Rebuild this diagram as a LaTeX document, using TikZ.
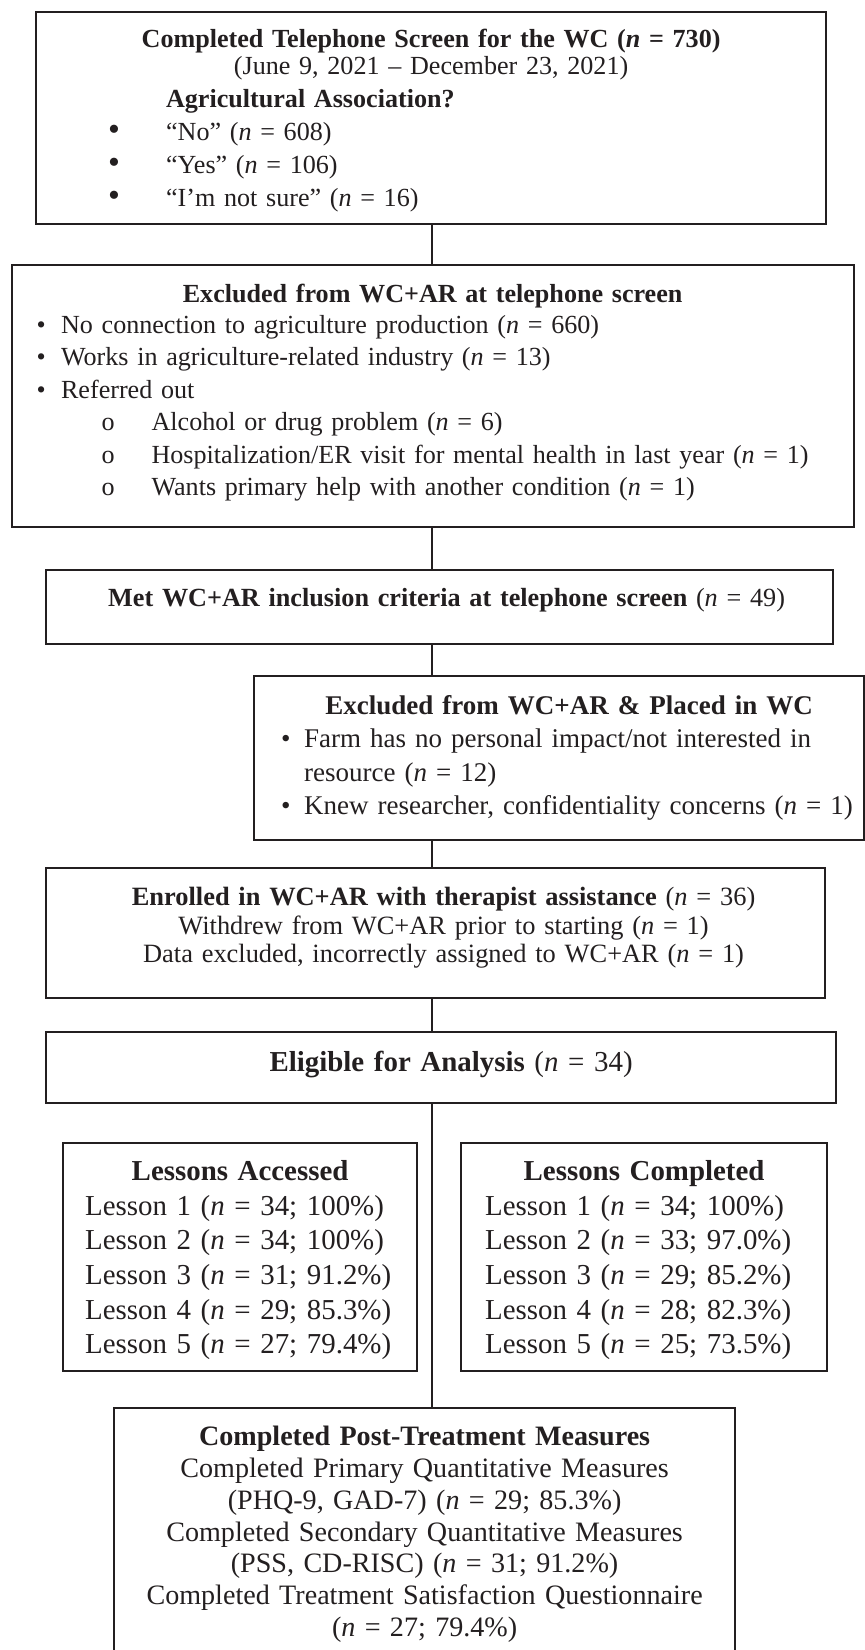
\documentclass[tikz,border=0pt]{standalone}
\usepackage{fontspec}
\setmainfont{Liberation Serif}
\usepackage{xcolor}
\definecolor{ink}{HTML}{231F20}
\usepackage{graphicx}
\usepackage{tikz}
\usetikzlibrary{positioning, calc}

\tikzset{
  flowbox/.style={draw=ink, line width=1.1pt, inner xsep=0pt, inner ysep=0pt,
    anchor=north west, align=left, text=ink},
  link/.style={draw=ink, line width=0.6pt},
}
\newcommand{\nn}{\textit{n}}
\newcommand{\fullline}[1]{\makebox[\linewidth]{#1}}

\begin{document}
\begin{tikzpicture}[x=0.5pt, y=-0.5pt]
  % page, in pixels of the figure
  \fill[white] (0,0) rectangle (864,1650);
  \useasboundingbox (0,0) rectangle (864,1650);
  \coordinate (spine) at (432,0);

  % Telephone screen
  \node[flowbox, minimum width=395pt, minimum height=106pt, text width=395pt,
        font=\fontsize{13.05}{16.5}\selectfont] (screen) at (35,10.5) {%
    \rule{0pt}{12.6pt}\fullline{\textbf{Completed Telephone Screen for the WC (\textit{n} = 730)}}\\[-3pt]
    \fullline{(June 9, 2021 – December 23, 2021)}\\
    \hspace*{65pt}\textbf{Agricultural Association?}\\
    \hspace*{36pt}\makebox[29pt][l]{\scalebox{1.3}{•}}“No” (\nn{} = 608)\\
    \hspace*{36pt}\makebox[29pt][l]{\scalebox{1.3}{•}}“Yes” (\nn{} = 106)\\
    \hspace*{36pt}\makebox[29pt][l]{\scalebox{1.3}{•}}“I’m not sure” (\nn{} = 16)};

  % Excluded at screen
  \node[flowbox, minimum width=421pt, minimum height=131pt, text width=421pt,
        font=\fontsize{13.05}{16.25}\selectfont] (exclTel) at (10.5,264) {%
    \fullline{\textbf{Excluded from WC+AR at telephone screen}}\\[-1pt]
    \hspace*{12.5pt}\makebox[12.25pt][l]{•}No connection to agriculture production (\nn{} = 660)\\
    \hspace*{12.5pt}\makebox[12.25pt][l]{•}Works in agriculture-related industry (\nn{} = 13)\\
    \hspace*{12.5pt}\makebox[12.25pt][l]{•}Referred out\\
    \hspace*{45pt}\makebox[25pt][l]{o}Alcohol or drug problem (\nn{} = 6)\\
    \hspace*{45pt}\makebox[25pt][l]{o}Hospitalization/ER visit for mental health in last year (\nn{} = 1)\\
    \hspace*{45pt}\makebox[25pt][l]{o}Wants primary help with another condition (\nn{} = 1)\\[-10pt]
    \mbox{}};

  % Inclusion
  \node[flowbox, minimum width=393.5pt, minimum height=37pt, text width=393.5pt,
        font=\fontsize{13.1}{16.5}\selectfont] (included) at (45,569) {%
    \fullline{\hspace{7pt}\textbf{Met WC+AR inclusion criteria at telephone screen} (\nn{} = 49)}\\[-7pt]
    \mbox{}};

  % Excluded and placed in WC
  \node[flowbox, minimum width=305pt, minimum height=82pt, text width=305pt,
        font=\fontsize{13.5}{16.75}\selectfont] (exclPlaced) at (253,675) {%
    \fullline{\hspace{10pt}\textbf{Excluded from WC+AR \& Placed in WC}}\\
    \hspace*{13.5pt}\makebox[11.5pt][l]{•}Farm has no personal impact/not interested in\\
    \hspace*{25pt}resource (\nn{} = 12)\\
    \hspace*{13.5pt}\makebox[11.5pt][l]{•}Knew researcher, confidentiality concerns (\nn{} = 1)};

  % Enrolled
  \node[flowbox, minimum width=389.5pt, minimum height=65pt, text width=389.5pt,
        font=\fontsize{13.2}{14.25}\selectfont] (enrolled) at (45,867) {%
    \fullline{\hspace{8pt}\textbf{Enrolled in WC+AR with therapist assistance} (\nn{} = 36)}\\
    \fullline{\hspace{8pt}Withdrew from WC+AR prior to starting (\nn{} = 1)}\\
    \fullline{\hspace{8pt}Data excluded, incorrectly assigned to WC+AR (\nn{} = 1)}\\[-6pt]
    \mbox{}};

  % Eligible
  \node[flowbox, minimum width=395pt, minimum height=35.5pt, text width=395pt,
        font=\fontsize{14.45}{17}\selectfont] (eligible) at (45,1031) {%
    \fullline{\hspace{10pt}\textbf{Eligible for Analysis} (\nn{} = 34)}\\[-11pt]
    \mbox{}};

  % Lessons
  \node[flowbox, minimum width=177pt, minimum height=114pt, text width=177pt,
        font=\fontsize{14.45}{17.3}\selectfont] (accessed) at (62,1142) {%
    \rule{0pt}{13.1pt}\fullline{\textbf{Lessons Accessed}}\\
    \hspace*{11pt}Lesson 1 (\nn{} = 34; 100\%)\\
    \hspace*{11pt}Lesson 2 (\nn{} = 34; 100\%)\\
    \hspace*{11pt}Lesson 3 (\nn{} = 31; 91.2\%)\\
    \hspace*{11pt}Lesson 4 (\nn{} = 29; 85.3\%)\\
    \hspace*{11pt}Lesson 5 (\nn{} = 27; 79.4\%)};
  \node[flowbox, minimum width=183pt, minimum height=114pt, text width=183pt,
        font=\fontsize{14.45}{17.3}\selectfont] (completed) at (460,1142) {%
    \rule{0pt}{13.1pt}\fullline{\textbf{Lessons Completed}}\\
    \hspace*{12pt}Lesson 1 (\nn{} = 34; 100\%)\\
    \hspace*{12pt}Lesson 2 (\nn{} = 33; 97.0\%)\\
    \hspace*{12pt}Lesson 3 (\nn{} = 29; 85.2\%)\\
    \hspace*{12pt}Lesson 4 (\nn{} = 28; 82.3\%)\\
    \hspace*{12pt}Lesson 5 (\nn{} = 25; 73.5\%)};

  % Post-treatment (runs off the page)
  \node[flowbox, minimum width=310.5pt, text width=310.5pt, inner ysep=9pt,
        font=\fontsize{14.05}{15.9}\selectfont] (post) at (113,1407) {%
    \fullline{\textbf{Completed Post-Treatment Measures}}\\
    \fullline{Completed Primary Quantitative Measures}\\
    \fullline{(PHQ-9, GAD-7) (\nn{} = 29; 85.3\%)}\\
    \fullline{Completed Secondary Quantitative Measures}\\
    \fullline{(PSS, CD-RISC) (\nn{} = 31; 91.2\%)}\\
    \fullline{Completed Treatment Satisfaction Questionnaire}\\
    \fullline{(\nn{} = 27; 79.4\%)}};

  % Connectors
  \draw[link] (screen.south -| spine) -- (exclTel.north -| spine);
  \draw[link] (exclTel.south -| spine) -- (included.north -| spine);
  \draw[link] (included.south -| spine) -- (exclPlaced.north -| spine);
  \draw[link] (exclPlaced.south -| spine) -- (enrolled.north -| spine);
  \draw[link] (enrolled.south -| spine) -- (eligible.north -| spine);
  \draw[link] (eligible.south -| spine) -- (post.north -| spine);
\end{tikzpicture}
\end{document}
